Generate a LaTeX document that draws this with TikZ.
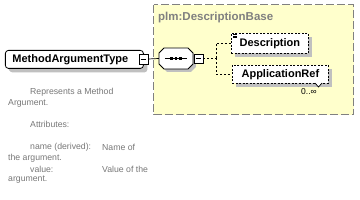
\documentclass[tikz,border=0pt]{standalone}
\usepackage{fontspec}
\setmainfont{Liberation Sans}
\usetikzlibrary{shadows}
\definecolor{boxyellow}{RGB}{255,255,204}
\definecolor{bordergray}{RGB}{128,128,128}
\definecolor{shadowgray}{RGB}{192,192,192}
\definecolor{textgray}{RGB}{120,120,120}
\begin{document}
\begin{tikzpicture}[x=1pt,y=-1pt,
  elem/.style={draw=black, fill=white, line width=0.8pt, inner sep=0pt, anchor=north west,
    font=\fontsize{11}{13}\selectfont\bfseries,
    general shadow={fill=shadowgray, shadow xshift=4pt, shadow yshift=-4pt}},
  optelem/.style={elem, dash pattern=on 2pt off 1.5pt},
  togglebox/.style={draw=black, fill=white, line width=0.7pt, inner sep=0pt, minimum width=9pt, minimum height=10pt},
  conn/.style={draw=black, line width=0.7pt},
  dconn/.style={conn, dash pattern=on 2pt off 2pt},
  doc/.style={anchor=west, text=textgray, font=\fontsize{8.7}{10}\selectfont, inner sep=0pt},
]
\useasboundingbox[fill=white] (0,0) rectangle (360,200);

% group box
\draw[fill=boxyellow, draw=bordergray, dash pattern=on 8pt off 3pt, line width=1pt] (154,5) rectangle (354,115);
\node[anchor=west, inner sep=0pt, text=bordergray, font=\fontsize{11.5}{13}\selectfont\bfseries] (grp) at (158,18) {plm:DescriptionBase};

% main element
\node[elem, rounded corners=3pt, minimum width=138pt, minimum height=18pt,
  general shadow={fill=shadowgray, shadow xshift=3pt, shadow yshift=-3pt, rounded corners=3pt},
  text width=124pt, align=left, inner xsep=7pt] (mat) at (5,50) {MethodArgumentType};
\node[togglebox] (matm) at (143.5,59) {};
\draw[line width=0.7pt] ([xshift=2pt]matm.west) -- ([xshift=-2pt]matm.east);

% sequence compositor
\node[inner sep=0pt, minimum width=34pt, minimum height=21pt] (seq) at (176,58.5) {};
\fill[shadowgray] (167,51) -- (191,51) -- (196,56) -- (196,67) -- (191,72) -- (167,72) -- (162,67) -- (162,56) -- cycle;
\draw[fill=white, line width=0.8pt] (164,48) -- (188,48) -- (193,53) -- (193,64) -- (188,69) -- (164,69) -- (159,64) -- (159,53) -- cycle;
\draw[line width=0.7pt] (165,58.5) -- (187,58.5);
\foreach \dx in {171.5,176,180.5} \fill[black] (\dx-1.3,57.2) rectangle (\dx+1.3,59.8);
\node[togglebox, minimum height=9pt] (seqm) at (198.5,58.5) {};
\draw[line width=0.7pt] ([xshift=2pt]seqm.west) -- ([xshift=-2pt]seqm.east);

\draw[conn] (matm.east) -- (seq.west);

% child elements
\node[optelem, minimum width=77pt, minimum height=20pt] (desc) at (231,33) {Description};
\draw[line width=0.5pt] (233.5,34.5) -- (237.5,34.5) (233.5,36) -- (237.5,36) (233.5,37.5) -- (237.5,37.5);
\node[optelem, minimum width=96pt, minimum height=18pt] (app) at (232,65) {ApplicationRef};
\draw[line width=0.7pt, fill=white] (315,83) -- (318.5,87) -- (322,83);
\node[anchor=west, inner sep=0pt, font=\fontsize{8.5}{10}\selectfont] (mult) at (301,92) {0..∞};

% connectors
\coordinate (br) at (216,58.5);
\draw[dconn] (seqm.east) -- (br);
\draw[dconn] (br) |- (desc.west);
\draw[dconn] (br) |- (app.west);

% documentation
\node[doc] (d1) at (30,92) {Represents a Method};
\node[doc] (d2) at (8,103) {Argument.};
\node[doc] (d3) at (30,124) {Attributes:};
\node[doc] (d4) at (30,147) {name (derived):};
\node[doc] (d4b) at (102,147) {Name of};
\node[doc] (d5) at (8,158) {the argument.};
\node[doc] (d6) at (30,169) {value:};
\node[doc] (d6b) at (102,169) {Value of the};
\node[doc] (d7) at (8,180) {argument.};
\end{tikzpicture}
\end{document}
